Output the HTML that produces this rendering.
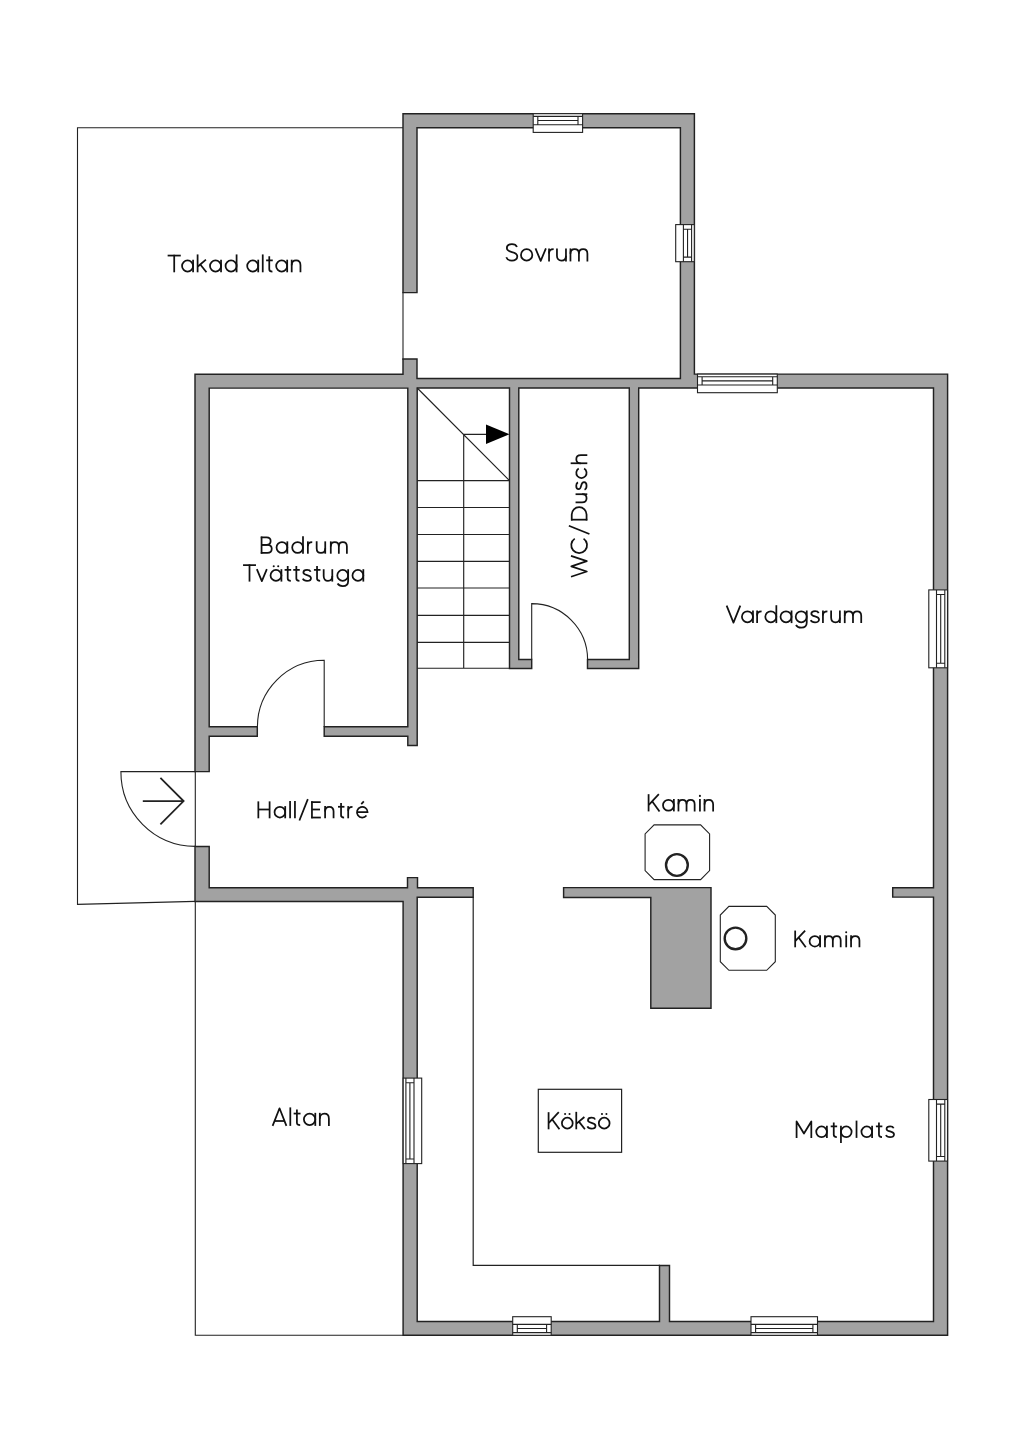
<!DOCTYPE html>
<html><head><meta charset="utf-8"><title>Planritning</title>
<style>
html,body{margin:0;padding:0;background:#fff;}
body{width:1024px;height:1448px;overflow:hidden;}
svg{display:block;will-change:transform;font-family:"Liberation Sans",sans-serif;}
text{fill:#000;stroke:#fff;stroke-width:0.3px;}
</style></head>
<body>
<svg width="1024" height="1448" viewBox="0 0 1024 1448">
<rect width="1024" height="1448" fill="#fff"/>
<path d="M403 127.7 H77.5 V904.4 L195.3 901.4" fill="none" stroke="#222" stroke-width="1.1"/>
<path d="M195.3 901.4 V1335.3 H404" fill="none" stroke="#222" stroke-width="1.1"/>
<path d="M403 292 V360" fill="none" stroke="#222" stroke-width="1.1"/>
<path d="M195.3 771 V847" fill="none" stroke="#222" stroke-width="1.1"/>
<path d="M417 127.7 L680.4 127.7 L680.4 378.4 L417 378.4 L417 359 L403 359 L403 374.2 L195 374.2 L195 771.6 L209.2 771.6 L209.2 736.3 L257.3 736.3 L257.3 726.8 L209.2 726.8 L209.2 388.1 L407.8 388.1 L407.8 726.8 L324.2 726.8 L324.2 736.3 L407.8 736.3 L407.8 745.4 L417.2 745.4 L417.2 388 L509.5 388 L509.5 668.5 L531.7 668.5 L531.7 659.4 L518.8 659.4 L518.8 388 L629.3 388 L629.3 659.4 L587.5 659.4 L587.5 668.5 L638.7 668.5 L638.7 388 L933.5 388 L933.5 887.7 L892.7 887.7 L892.7 897.1 L933.5 897.1 L933.5 1321.4 L669.5 1321.4 L669.5 1265.4 L659.5 1265.4 L659.5 1321.4 L417.2 1321.4 L417.2 897.3 L473.2 897.3 L473.2 887.8 L417.5 887.8 L417.5 877.6 L407.5 877.6 L407.5 887.8 L209.2 887.8 L209.2 846.4 L195 846.4 L195 901.5 L403.1 901.5 L403.1 1335.3 L947.6 1335.3 L947.6 374.1 L694.4 374.1 L694.4 113.7 L403 113.7 L403 292.6 L417 292.6 Z" fill="#a2a2a2" fill-rule="evenodd" stroke="#222" stroke-width="1.45" stroke-linejoin="miter"/>
<path d="M563.6 887.6 H711 V1008.3 H650.8 V897.4 H563.6 Z" fill="#a2a2a2" stroke="#222" stroke-width="1.45"/>
<g stroke="#222" stroke-width="1.1"><rect x="533.2" y="113.7" width="49.4" height="18.7" fill="#fff"/><path d="M533.2 116.4 H582.6 M533.2 124.7 H582.6 M537.8 120.5 H578 M537.8 116.4 V124.7 M578 116.4 V124.7" fill="none"/><rect x="675.7" y="224.6" width="18.6" height="37.1" fill="#fff"/><path d="M691.6 224.6 V261.7 M683.4 224.6 V261.7 M687.55 229.2 V257.1 M691.6 229.2 H683.4 M691.6 257.1 H683.4" fill="none"/><rect x="697.5" y="374.1" width="79.8" height="18.6" fill="#fff"/><path d="M697.5 376.8 H777.3 M697.5 385 H777.3 M702.1 380.85 H772.7 M702.1 376.8 V385 M772.7 376.8 V385" fill="none"/><rect x="928.8" y="589.9" width="18.7" height="77.9" fill="#fff"/><path d="M944.8 589.9 V667.8 M936.5 589.9 V667.8 M940.7 594.5 V663.2 M944.8 594.5 H936.5 M944.8 663.2 H936.5" fill="none"/><rect x="928.8" y="1099.5" width="18.7" height="61.6" fill="#fff"/><path d="M944.8 1099.5 V1161.1 M936.5 1099.5 V1161.1 M940.7 1104.1 V1156.5 M944.8 1104.1 H936.5 M944.8 1156.5 H936.5" fill="none"/><rect x="512.7" y="1316.7" width="38.5" height="18.6" fill="#fff"/><path d="M512.7 1332.6 H551.2 M512.7 1324.4 H551.2 M517.3 1328.55 H546.6 M517.3 1332.6 V1324.4 M546.6 1332.6 V1324.4" fill="none"/><rect x="751" y="1316.7" width="66.5" height="18.6" fill="#fff"/><path d="M751 1332.6 H817.5 M751 1324.4 H817.5 M755.6 1328.55 H812.9 M755.6 1332.6 V1324.4 M812.9 1332.6 V1324.4" fill="none"/><rect x="403.2" y="1078.1" width="18.5" height="85.5" fill="#fff"/><path d="M405.9 1078.1 V1163.6 M414 1078.1 V1163.6 M409.9 1082.7 V1159 M405.9 1082.7 H414 M405.9 1159 H414" fill="none"/></g>
<g fill="none" stroke="#222" stroke-width="1.1">
<path d="M195.2 771.6 H120.9 A74.5 74.5 0 0 0 195.2 846.4"/>
<path d="M324.2 727 V660.2 A66.8 66.8 0 0 0 257.4 727"/>
<path d="M531.7 659.6 V603.6 A56 56 0 0 1 587.6 659.6"/>
</g>
<path d="M142.8 801.1 H183.6 M160.4 777.8 L183.6 801.1 L160.4 824.3" fill="none" stroke="#222" stroke-width="1.8"/>
<path d="M417.2 388 L509.5 480.6 M463.7 434.3 V668.2 M463.7 434.3 H490 M417.2 480.6 H509.5 M417.2 507.5 H509.5 M417.2 534.5 H509.5 M417.2 561.4 H509.5 M417.2 588 H509.5 M417.2 615.3 H509.5 M417.2 642.3 H509.5 M417.2 668.2 H509.5" fill="none" stroke="#222" stroke-width="1.15"/>
<path d="M486 424.6 L509.5 434.3 L486 443.9 Z" fill="#000"/>
<path d="M473.2 897 V1265.4 H660" fill="none" stroke="#222" stroke-width="1.2"/>
<path d="M654.1 824.9 H700.6 L709.6 833.9 V870.6 L700.6 879.6 H654.1 L645.1 870.6 V833.9 Z" fill="#fff" stroke="#222" stroke-width="1.1"/>
<circle cx="676.9" cy="865" r="10.9" fill="none" stroke="#222" stroke-width="2.4"/>
<path d="M728.9 906.4 H766.7 L775.3 915 V961.7 L766.7 970.3 H728.9 L720.3 961.7 V915 Z" fill="#fff" stroke="#222" stroke-width="1.1"/>
<circle cx="735.5" cy="938.4" r="10.8" fill="none" stroke="#222" stroke-width="2.4"/>
<rect x="538.3" y="1089.3" width="83.3" height="63" fill="none" stroke="#222" stroke-width="1.2"/>
<g transform="translate(166.937 272.3) scale(0.175224 0.175224)"><g fill="none" stroke="#111" stroke-width="1.75" vector-effect="non-scaling-stroke" stroke-linejoin="round" stroke-linecap="butt"><path transform="translate(0 0)" d="M4 -95.5 H79" vector-effect="non-scaling-stroke"/><path transform="translate(0 0)" d="M41.5 -100 V0" vector-effect="non-scaling-stroke"/><path transform="translate(75.7531 0)" d="M10.5 -36 a31.5 31.5 0 1 0 63 0 a31.5 31.5 0 1 0 -63 0" vector-effect="non-scaling-stroke"/><path transform="translate(75.7531 0)" d="M73.5 -72 V0" vector-effect="non-scaling-stroke"/><path transform="translate(164.506 0)" d="M10.5 -102 V0" vector-effect="non-scaling-stroke"/><path transform="translate(164.506 0)" d="M58 -72 L12 -33" vector-effect="non-scaling-stroke"/><path transform="translate(164.506 0)" d="M26 -45 L61 0" vector-effect="non-scaling-stroke"/><path transform="translate(235.259 0)" d="M10.5 -36 a31.5 31.5 0 1 0 63 0 a31.5 31.5 0 1 0 -63 0" vector-effect="non-scaling-stroke"/><path transform="translate(235.259 0)" d="M73.5 -72 V0" vector-effect="non-scaling-stroke"/><path transform="translate(324.012 0)" d="M10.5 -36 a31.5 31.5 0 1 0 63 0 a31.5 31.5 0 1 0 -63 0" vector-effect="non-scaling-stroke"/><path transform="translate(324.012 0)" d="M73.5 -102 V0" vector-effect="non-scaling-stroke"/><path transform="translate(447.519 0)" d="M10.5 -36 a31.5 31.5 0 1 0 63 0 a31.5 31.5 0 1 0 -63 0" vector-effect="non-scaling-stroke"/><path transform="translate(447.519 0)" d="M73.5 -72 V0" vector-effect="non-scaling-stroke"/><path transform="translate(536.272 0)" d="M10.5 -102 V0" vector-effect="non-scaling-stroke"/><path transform="translate(562.025 0)" d="M22 -91 V-18 C22 -8 28 -4.5 40 -4.5" vector-effect="non-scaling-stroke"/><path transform="translate(562.025 0)" d="M4 -68 H42" vector-effect="non-scaling-stroke"/><path transform="translate(612.778 0)" d="M10.5 -36 a31.5 31.5 0 1 0 63 0 a31.5 31.5 0 1 0 -63 0" vector-effect="non-scaling-stroke"/><path transform="translate(612.778 0)" d="M73.5 -72 V0" vector-effect="non-scaling-stroke"/><path transform="translate(701.531 0)" d="M10.5 -72 V0" vector-effect="non-scaling-stroke"/><path transform="translate(701.531 0)" d="M10.5 -40 C10.5 -57 20 -67.5 35.5 -67.5 C51 -67.5 60.5 -57 60.5 -40 V0" vector-effect="non-scaling-stroke"/></g><g fill="#111" stroke="none"></g></g>
<g transform="translate(504.678 261.4) scale(0.180336 0.180336)"><g fill="none" stroke="#111" stroke-width="1.75" vector-effect="non-scaling-stroke" stroke-linejoin="round" stroke-linecap="butt"><path transform="translate(0 0)" d="M68 -80 C64 -90 54 -95.5 40 -95.5 C23 -95.5 12 -87 12 -74 C12 -59 26 -55 40 -52 C57 -48.5 70 -43 70 -27 C70 -12 57 -4.5 40 -4.5 C24 -4.5 13 -11 9 -23" vector-effect="non-scaling-stroke"/><path transform="translate(79.8416 0)" d="M10.5 -36 a31.5 31.5 0 1 0 63 0 a31.5 31.5 0 1 0 -63 0" vector-effect="non-scaling-stroke"/><path transform="translate(163.683 0)" d="M7 -72 L36 -3 L65 -72" vector-effect="non-scaling-stroke"/><path transform="translate(235.525 0)" d="M10.5 -72 V0" vector-effect="non-scaling-stroke"/><path transform="translate(235.525 0)" d="M10.5 -44 C10.5 -60 20 -67.5 36 -67.5" vector-effect="non-scaling-stroke"/><path transform="translate(279.366 0)" d="M10.5 -72 V-32 C10.5 -15 20 -4.5 35.5 -4.5 C51 -4.5 60.5 -15 60.5 -32" vector-effect="non-scaling-stroke"/><path transform="translate(279.366 0)" d="M60.5 -72 V0" vector-effect="non-scaling-stroke"/><path transform="translate(354.208 0)" d="M10.5 -72 V0" vector-effect="non-scaling-stroke"/><path transform="translate(354.208 0)" d="M10.5 -42 C10.5 -58 19 -67.5 34 -67.5 C49 -67.5 57.5 -58 57.5 -42 V0" vector-effect="non-scaling-stroke"/><path transform="translate(354.208 0)" d="M57.5 -42 C57.5 -58 66 -67.5 81 -67.5 C96 -67.5 104.5 -58 104.5 -42 V0" vector-effect="non-scaling-stroke"/></g><g fill="#111" stroke="none"></g></g>
<g transform="translate(259.761 553.7) scale(0.171349 0.171349)"><g fill="none" stroke="#111" stroke-width="1.75" vector-effect="non-scaling-stroke" stroke-linejoin="round" stroke-linecap="butt"><path transform="translate(0 0)" d="M10.5 -100 V0" vector-effect="non-scaling-stroke"/><path transform="translate(0 0)" d="M6 -95.5 H40 C55 -95.5 63.5 -86 63.5 -74 C63.5 -61.5 55 -52 40 -52 H10.5" vector-effect="non-scaling-stroke"/><path transform="translate(0 0)" d="M10.5 -52 H44 C60 -52 70 -42 70 -28.5 C70 -14 60 -4.5 44 -4.5 H6" vector-effect="non-scaling-stroke"/><path transform="translate(87.4015 0)" d="M10.5 -36 a31.5 31.5 0 1 0 63 0 a31.5 31.5 0 1 0 -63 0" vector-effect="non-scaling-stroke"/><path transform="translate(87.4015 0)" d="M73.5 -72 V0" vector-effect="non-scaling-stroke"/><path transform="translate(178.803 0)" d="M10.5 -36 a31.5 31.5 0 1 0 63 0 a31.5 31.5 0 1 0 -63 0" vector-effect="non-scaling-stroke"/><path transform="translate(178.803 0)" d="M73.5 -102 V0" vector-effect="non-scaling-stroke"/><path transform="translate(270.204 0)" d="M10.5 -72 V0" vector-effect="non-scaling-stroke"/><path transform="translate(270.204 0)" d="M10.5 -44 C10.5 -60 20 -67.5 36 -67.5" vector-effect="non-scaling-stroke"/><path transform="translate(321.606 0)" d="M10.5 -72 V-32 C10.5 -15 20 -4.5 35.5 -4.5 C51 -4.5 60.5 -15 60.5 -32" vector-effect="non-scaling-stroke"/><path transform="translate(321.606 0)" d="M60.5 -72 V0" vector-effect="non-scaling-stroke"/><path transform="translate(404.007 0)" d="M10.5 -72 V0" vector-effect="non-scaling-stroke"/><path transform="translate(404.007 0)" d="M10.5 -42 C10.5 -58 19 -67.5 34 -67.5 C49 -67.5 57.5 -58 57.5 -42 V0" vector-effect="non-scaling-stroke"/><path transform="translate(404.007 0)" d="M57.5 -42 C57.5 -58 66 -67.5 81 -67.5 C96 -67.5 104.5 -58 104.5 -42 V0" vector-effect="non-scaling-stroke"/></g><g fill="#111" stroke="none"></g></g>
<g transform="translate(242.355 581.6) scale(0.172352 0.172352)"><g fill="none" stroke="#111" stroke-width="1.75" vector-effect="non-scaling-stroke" stroke-linejoin="round" stroke-linecap="butt"><path transform="translate(0 0)" d="M4 -95.5 H79" vector-effect="non-scaling-stroke"/><path transform="translate(0 0)" d="M41.5 -100 V0" vector-effect="non-scaling-stroke"/><path transform="translate(77.0466 0)" d="M7 -72 L36 -3 L65 -72" vector-effect="non-scaling-stroke"/><path transform="translate(153.093 0)" d="M10.5 -36 a31.5 31.5 0 1 0 63 0 a31.5 31.5 0 1 0 -63 0" vector-effect="non-scaling-stroke"/><path transform="translate(153.093 0)" d="M73.5 -72 V0" vector-effect="non-scaling-stroke"/><path transform="translate(241.14 0)" d="M22 -91 V-18 C22 -8 28 -4.5 40 -4.5" vector-effect="non-scaling-stroke"/><path transform="translate(241.14 0)" d="M4 -68 H42" vector-effect="non-scaling-stroke"/><path transform="translate(291.186 0)" d="M22 -91 V-18 C22 -8 28 -4.5 40 -4.5" vector-effect="non-scaling-stroke"/><path transform="translate(291.186 0)" d="M4 -68 H42" vector-effect="non-scaling-stroke"/><path transform="translate(341.233 0)" d="M55 -57 C52 -64.5 44 -68 34 -68 C21 -68 13 -62 13 -53 C13 -43 23 -40.5 34 -38 C47 -35 57 -31 57 -20 C57 -10 48 -4.5 34 -4.5 C22 -4.5 13 -9 9.5 -17" vector-effect="non-scaling-stroke"/><path transform="translate(411.28 0)" d="M22 -91 V-18 C22 -8 28 -4.5 40 -4.5" vector-effect="non-scaling-stroke"/><path transform="translate(411.28 0)" d="M4 -68 H42" vector-effect="non-scaling-stroke"/><path transform="translate(461.326 0)" d="M10.5 -72 V-32 C10.5 -15 20 -4.5 35.5 -4.5 C51 -4.5 60.5 -15 60.5 -32" vector-effect="non-scaling-stroke"/><path transform="translate(461.326 0)" d="M60.5 -72 V0" vector-effect="non-scaling-stroke"/><path transform="translate(540.373 0)" d="M10.5 -36 a31.5 31.5 0 1 0 63 0 a31.5 31.5 0 1 0 -63 0" vector-effect="non-scaling-stroke"/><path transform="translate(540.373 0)" d="M73.5 -72 V-4 C73.5 16 61 26 42 26 C28 26 17 20 12 11" vector-effect="non-scaling-stroke"/><path transform="translate(628.419 0)" d="M10.5 -36 a31.5 31.5 0 1 0 63 0 a31.5 31.5 0 1 0 -63 0" vector-effect="non-scaling-stroke"/><path transform="translate(628.419 0)" d="M73.5 -72 V0" vector-effect="non-scaling-stroke"/></g><g fill="#111" stroke="none"><circle cx="182.093" cy="-89" r="6"/><circle cx="208.093" cy="-89" r="6"/></g></g>
<g transform="translate(725.583 623.1) scale(0.175341 0.175341)"><g fill="none" stroke="#111" stroke-width="1.75" vector-effect="non-scaling-stroke" stroke-linejoin="round" stroke-linecap="butt"><path transform="translate(0 0)" d="M6 -100 L45 -3 L84 -100" vector-effect="non-scaling-stroke"/><path transform="translate(82.6748 0)" d="M10.5 -36 a31.5 31.5 0 1 0 63 0 a31.5 31.5 0 1 0 -63 0" vector-effect="non-scaling-stroke"/><path transform="translate(82.6748 0)" d="M73.5 -72 V0" vector-effect="non-scaling-stroke"/><path transform="translate(169.35 0)" d="M10.5 -72 V0" vector-effect="non-scaling-stroke"/><path transform="translate(169.35 0)" d="M10.5 -44 C10.5 -60 20 -67.5 36 -67.5" vector-effect="non-scaling-stroke"/><path transform="translate(216.024 0)" d="M10.5 -36 a31.5 31.5 0 1 0 63 0 a31.5 31.5 0 1 0 -63 0" vector-effect="non-scaling-stroke"/><path transform="translate(216.024 0)" d="M73.5 -102 V0" vector-effect="non-scaling-stroke"/><path transform="translate(302.699 0)" d="M10.5 -36 a31.5 31.5 0 1 0 63 0 a31.5 31.5 0 1 0 -63 0" vector-effect="non-scaling-stroke"/><path transform="translate(302.699 0)" d="M73.5 -72 V0" vector-effect="non-scaling-stroke"/><path transform="translate(389.374 0)" d="M10.5 -36 a31.5 31.5 0 1 0 63 0 a31.5 31.5 0 1 0 -63 0" vector-effect="non-scaling-stroke"/><path transform="translate(389.374 0)" d="M73.5 -72 V-4 C73.5 16 61 26 42 26 C28 26 17 20 12 11" vector-effect="non-scaling-stroke"/><path transform="translate(476.049 0)" d="M55 -57 C52 -64.5 44 -68 34 -68 C21 -68 13 -62 13 -53 C13 -43 23 -40.5 34 -38 C47 -35 57 -31 57 -20 C57 -10 48 -4.5 34 -4.5 C22 -4.5 13 -9 9.5 -17" vector-effect="non-scaling-stroke"/><path transform="translate(544.723 0)" d="M10.5 -72 V0" vector-effect="non-scaling-stroke"/><path transform="translate(544.723 0)" d="M10.5 -44 C10.5 -60 20 -67.5 36 -67.5" vector-effect="non-scaling-stroke"/><path transform="translate(591.398 0)" d="M10.5 -72 V-32 C10.5 -15 20 -4.5 35.5 -4.5 C51 -4.5 60.5 -15 60.5 -32" vector-effect="non-scaling-stroke"/><path transform="translate(591.398 0)" d="M60.5 -72 V0" vector-effect="non-scaling-stroke"/><path transform="translate(669.073 0)" d="M10.5 -72 V0" vector-effect="non-scaling-stroke"/><path transform="translate(669.073 0)" d="M10.5 -42 C10.5 -58 19 -67.5 34 -67.5 C49 -67.5 57.5 -58 57.5 -42 V0" vector-effect="non-scaling-stroke"/><path transform="translate(669.073 0)" d="M57.5 -42 C57.5 -58 66 -67.5 81 -67.5 C96 -67.5 104.5 -58 104.5 -42 V0" vector-effect="non-scaling-stroke"/></g><g fill="#111" stroke="none"></g></g>
<g transform="translate(256.565 818.3) scale(0.169301 0.169301)"><g fill="none" stroke="#111" stroke-width="1.75" vector-effect="non-scaling-stroke" stroke-linejoin="round" stroke-linecap="butt"><path transform="translate(0 0)" d="M10.5 -100 V0" vector-effect="non-scaling-stroke"/><path transform="translate(0 0)" d="M77 -100 V0" vector-effect="non-scaling-stroke"/><path transform="translate(0 0)" d="M10.5 -52 H77" vector-effect="non-scaling-stroke"/><path transform="translate(95.7179 0)" d="M10.5 -36 a31.5 31.5 0 1 0 63 0 a31.5 31.5 0 1 0 -63 0" vector-effect="non-scaling-stroke"/><path transform="translate(95.7179 0)" d="M73.5 -72 V0" vector-effect="non-scaling-stroke"/><path transform="translate(187.436 0)" d="M10.5 -102 V0" vector-effect="non-scaling-stroke"/><path transform="translate(216.154 0)" d="M10.5 -102 V0" vector-effect="non-scaling-stroke"/><path transform="translate(244.872 0)" d="M8 13 L58 -113" vector-effect="non-scaling-stroke"/><path transform="translate(316.59 0)" d="M10.5 -100 V0" vector-effect="non-scaling-stroke"/><path transform="translate(316.59 0)" d="M6 -95.5 H62" vector-effect="non-scaling-stroke"/><path transform="translate(316.59 0)" d="M10.5 -52 H58" vector-effect="non-scaling-stroke"/><path transform="translate(316.59 0)" d="M6 -4.5 H63" vector-effect="non-scaling-stroke"/><path transform="translate(394.308 0)" d="M10.5 -72 V0" vector-effect="non-scaling-stroke"/><path transform="translate(394.308 0)" d="M10.5 -40 C10.5 -57 20 -67.5 35.5 -67.5 C51 -67.5 60.5 -57 60.5 -40 V0" vector-effect="non-scaling-stroke"/><path transform="translate(477.026 0)" d="M22 -91 V-18 C22 -8 28 -4.5 40 -4.5" vector-effect="non-scaling-stroke"/><path transform="translate(477.026 0)" d="M4 -68 H42" vector-effect="non-scaling-stroke"/><path transform="translate(530.744 0)" d="M10.5 -72 V0" vector-effect="non-scaling-stroke"/><path transform="translate(530.744 0)" d="M10.5 -44 C10.5 -60 20 -67.5 36 -67.5" vector-effect="non-scaling-stroke"/><path transform="translate(582.461 0)" d="M10.5 -36 H73.5 A31.5 31.5 0 1 0 66.8 -16.6" vector-effect="non-scaling-stroke"/><path transform="translate(582.461 0)" d="M36 -84 L51 -100" vector-effect="non-scaling-stroke"/></g><g fill="#111" stroke="none"></g></g>
<g transform="translate(646.779 811.4) scale(0.172238 0.172238)"><g fill="none" stroke="#111" stroke-width="1.75" vector-effect="non-scaling-stroke" stroke-linejoin="round" stroke-linecap="butt"><path transform="translate(0 0)" d="M10.5 -100 V0" vector-effect="non-scaling-stroke"/><path transform="translate(0 0)" d="M70 -100 L12 -38" vector-effect="non-scaling-stroke"/><path transform="translate(0 0)" d="M31 -59 L74 0" vector-effect="non-scaling-stroke"/><path transform="translate(83.6975 0)" d="M10.5 -36 a31.5 31.5 0 1 0 63 0 a31.5 31.5 0 1 0 -63 0" vector-effect="non-scaling-stroke"/><path transform="translate(83.6975 0)" d="M73.5 -72 V0" vector-effect="non-scaling-stroke"/><path transform="translate(173.395 0)" d="M10.5 -72 V0" vector-effect="non-scaling-stroke"/><path transform="translate(173.395 0)" d="M10.5 -42 C10.5 -58 19 -67.5 34 -67.5 C49 -67.5 57.5 -58 57.5 -42 V0" vector-effect="non-scaling-stroke"/><path transform="translate(173.395 0)" d="M57.5 -42 C57.5 -58 66 -67.5 81 -67.5 C96 -67.5 104.5 -58 104.5 -42 V0" vector-effect="non-scaling-stroke"/><path transform="translate(298.092 0)" d="M10.5 -72 V0" vector-effect="non-scaling-stroke"/><path transform="translate(324.79 0)" d="M10.5 -72 V0" vector-effect="non-scaling-stroke"/><path transform="translate(324.79 0)" d="M10.5 -40 C10.5 -57 20 -67.5 35.5 -67.5 C51 -67.5 60.5 -57 60.5 -40 V0" vector-effect="non-scaling-stroke"/></g><g fill="#111" stroke="none"><circle cx="308.592" cy="-90" r="6"/></g></g>
<g transform="translate(793.408 947.3) scale(0.167357 0.167357)"><g fill="none" stroke="#111" stroke-width="1.75" vector-effect="non-scaling-stroke" stroke-linejoin="round" stroke-linecap="butt"><path transform="translate(0 0)" d="M10.5 -100 V0" vector-effect="non-scaling-stroke"/><path transform="translate(0 0)" d="M70 -100 L12 -38" vector-effect="non-scaling-stroke"/><path transform="translate(0 0)" d="M31 -59 L74 0" vector-effect="non-scaling-stroke"/><path transform="translate(86.0053 0)" d="M10.5 -36 a31.5 31.5 0 1 0 63 0 a31.5 31.5 0 1 0 -63 0" vector-effect="non-scaling-stroke"/><path transform="translate(86.0053 0)" d="M73.5 -72 V0" vector-effect="non-scaling-stroke"/><path transform="translate(178.011 0)" d="M10.5 -72 V0" vector-effect="non-scaling-stroke"/><path transform="translate(178.011 0)" d="M10.5 -42 C10.5 -58 19 -67.5 34 -67.5 C49 -67.5 57.5 -58 57.5 -42 V0" vector-effect="non-scaling-stroke"/><path transform="translate(178.011 0)" d="M57.5 -42 C57.5 -58 66 -67.5 81 -67.5 C96 -67.5 104.5 -58 104.5 -42 V0" vector-effect="non-scaling-stroke"/><path transform="translate(305.016 0)" d="M10.5 -72 V0" vector-effect="non-scaling-stroke"/><path transform="translate(334.021 0)" d="M10.5 -72 V0" vector-effect="non-scaling-stroke"/><path transform="translate(334.021 0)" d="M10.5 -40 C10.5 -57 20 -67.5 35.5 -67.5 C51 -67.5 60.5 -57 60.5 -40 V0" vector-effect="non-scaling-stroke"/></g><g fill="#111" stroke="none"><circle cx="315.516" cy="-90" r="6"/></g></g>
<g transform="translate(271.359 1125.9) scale(0.181444 0.181444)"><g fill="none" stroke="#111" stroke-width="1.75" vector-effect="non-scaling-stroke" stroke-linejoin="round" stroke-linecap="butt"><path transform="translate(0 0)" d="M7 0 L45 -97 L83 0" vector-effect="non-scaling-stroke"/><path transform="translate(0 0)" d="M17 -27 H73" vector-effect="non-scaling-stroke"/><path transform="translate(93.9003 0)" d="M10.5 -102 V0" vector-effect="non-scaling-stroke"/><path transform="translate(118.801 0)" d="M22 -91 V-18 C22 -8 28 -4.5 40 -4.5" vector-effect="non-scaling-stroke"/><path transform="translate(118.801 0)" d="M4 -68 H42" vector-effect="non-scaling-stroke"/><path transform="translate(168.701 0)" d="M10.5 -36 a31.5 31.5 0 1 0 63 0 a31.5 31.5 0 1 0 -63 0" vector-effect="non-scaling-stroke"/><path transform="translate(168.701 0)" d="M73.5 -72 V0" vector-effect="non-scaling-stroke"/><path transform="translate(256.601 0)" d="M10.5 -72 V0" vector-effect="non-scaling-stroke"/><path transform="translate(256.601 0)" d="M10.5 -40 C10.5 -57 20 -67.5 35.5 -67.5 C51 -67.5 60.5 -57 60.5 -40 V0" vector-effect="non-scaling-stroke"/></g><g fill="#111" stroke="none"></g></g>
<g transform="translate(546.785 1129.3) scale(0.17124 0.17124)"><g fill="none" stroke="#111" stroke-width="1.75" vector-effect="non-scaling-stroke" stroke-linejoin="round" stroke-linecap="butt"><path transform="translate(0 0)" d="M10.5 -100 V0" vector-effect="non-scaling-stroke"/><path transform="translate(0 0)" d="M70 -100 L12 -38" vector-effect="non-scaling-stroke"/><path transform="translate(0 0)" d="M31 -59 L74 0" vector-effect="non-scaling-stroke"/><path transform="translate(77.8364 0)" d="M10.5 -36 a31.5 31.5 0 1 0 63 0 a31.5 31.5 0 1 0 -63 0" vector-effect="non-scaling-stroke"/><path transform="translate(161.673 0)" d="M10.5 -102 V0" vector-effect="non-scaling-stroke"/><path transform="translate(161.673 0)" d="M58 -72 L12 -33" vector-effect="non-scaling-stroke"/><path transform="translate(161.673 0)" d="M26 -45 L61 0" vector-effect="non-scaling-stroke"/><path transform="translate(227.509 0)" d="M55 -57 C52 -64.5 44 -68 34 -68 C21 -68 13 -62 13 -53 C13 -43 23 -40.5 34 -38 C47 -35 57 -31 57 -20 C57 -10 48 -4.5 34 -4.5 C22 -4.5 13 -9 9.5 -17" vector-effect="non-scaling-stroke"/><path transform="translate(293.346 0)" d="M10.5 -36 a31.5 31.5 0 1 0 63 0 a31.5 31.5 0 1 0 -63 0" vector-effect="non-scaling-stroke"/></g><g fill="#111" stroke="none"><circle cx="106.836" cy="-89" r="6"/><circle cx="132.836" cy="-89" r="6"/><circle cx="322.346" cy="-89" r="6"/><circle cx="348.346" cy="-89" r="6"/></g></g>
<g transform="translate(794.801 1137.9) scale(0.169419 0.169419)"><g fill="none" stroke="#111" stroke-width="1.75" vector-effect="non-scaling-stroke" stroke-linejoin="round" stroke-linecap="butt"><path transform="translate(0 0)" d="M10.5 0 V-97 L54 -26 L97.5 -97 V0" vector-effect="non-scaling-stroke"/><path transform="translate(115.949 0)" d="M10.5 -36 a31.5 31.5 0 1 0 63 0 a31.5 31.5 0 1 0 -63 0" vector-effect="non-scaling-stroke"/><path transform="translate(115.949 0)" d="M73.5 -72 V0" vector-effect="non-scaling-stroke"/><path transform="translate(207.898 0)" d="M22 -91 V-18 C22 -8 28 -4.5 40 -4.5" vector-effect="non-scaling-stroke"/><path transform="translate(207.898 0)" d="M4 -68 H42" vector-effect="non-scaling-stroke"/><path transform="translate(261.848 0)" d="M10.5 -36 a31.5 31.5 0 1 0 63 0 a31.5 31.5 0 1 0 -63 0" vector-effect="non-scaling-stroke"/><path transform="translate(261.848 0)" d="M10.5 -72 V30" vector-effect="non-scaling-stroke"/><path transform="translate(353.797 0)" d="M10.5 -102 V0" vector-effect="non-scaling-stroke"/><path transform="translate(382.746 0)" d="M10.5 -36 a31.5 31.5 0 1 0 63 0 a31.5 31.5 0 1 0 -63 0" vector-effect="non-scaling-stroke"/><path transform="translate(382.746 0)" d="M73.5 -72 V0" vector-effect="non-scaling-stroke"/><path transform="translate(474.695 0)" d="M22 -91 V-18 C22 -8 28 -4.5 40 -4.5" vector-effect="non-scaling-stroke"/><path transform="translate(474.695 0)" d="M4 -68 H42" vector-effect="non-scaling-stroke"/><path transform="translate(528.644 0)" d="M55 -57 C52 -64.5 44 -68 34 -68 C21 -68 13 -62 13 -53 C13 -43 23 -40.5 34 -38 C47 -35 57 -31 57 -20 C57 -10 48 -4.5 34 -4.5 C22 -4.5 13 -9 9.5 -17" vector-effect="non-scaling-stroke"/></g><g fill="#111" stroke="none"></g></g>
<g transform="translate(587.3 577.8) rotate(-90) scale(0.163 0.163)"><g fill="none" stroke="#111" stroke-width="1.75" vector-effect="non-scaling-stroke" stroke-linejoin="round" stroke-linecap="butt"><path transform="translate(2.5 0)" d="M4 -100 L36 -3 L68 -98 L100 -3 L132 -100" vector-effect="non-scaling-stroke"/><path transform="translate(141.2 0)" d="M99.2 -77.1 A48.5 48.5 0 1 0 99.2 -22.9" vector-effect="non-scaling-stroke"/><path transform="translate(261 0)" d="M8 13 L58 -113" vector-effect="non-scaling-stroke"/><path transform="translate(346.1 0)" d="M10.5 -100 V0" vector-effect="non-scaling-stroke"/><path transform="translate(346.1 0)" d="M6 -95.5 H42 A45.5 45.5 0 0 1 42 -4.5 H6" vector-effect="non-scaling-stroke"/><path transform="translate(452.3 0)" d="M10.5 -72 V-32 C10.5 -15 20 -4.5 35.5 -4.5 C51 -4.5 60.5 -15 60.5 -32" vector-effect="non-scaling-stroke"/><path transform="translate(452.3 0)" d="M60.5 -72 V0" vector-effect="non-scaling-stroke"/><path transform="translate(530.3 0)" d="M55 -57 C52 -64.5 44 -68 34 -68 C21 -68 13 -62 13 -53 C13 -43 23 -40.5 34 -38 C47 -35 57 -31 57 -20 C57 -10 48 -4.5 34 -4.5 C22 -4.5 13 -9 9.5 -17" vector-effect="non-scaling-stroke"/><path transform="translate(601.7 0)" d="M68.7 -52.7 A31.5 31.5 0 1 0 68.7 -19.3" vector-effect="non-scaling-stroke"/><path transform="translate(692.2 0)" d="M10.5 -102 V0" vector-effect="non-scaling-stroke"/><path transform="translate(692.2 0)" d="M10.5 -40 C10.5 -57 20 -67.5 35.5 -67.5 C51 -67.5 60.5 -57 60.5 -40 V0" vector-effect="non-scaling-stroke"/></g><g fill="#111" stroke="none"></g></g>
</svg>
</body></html>
